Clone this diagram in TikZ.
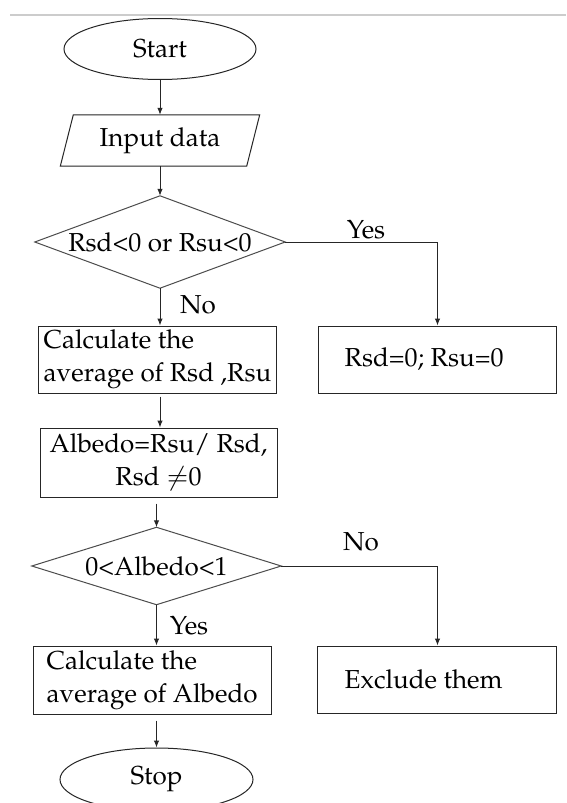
\documentclass[tikz,border=0pt]{standalone}
\usepackage[T1]{fontenc}
\usepackage{mathpazo}
\usetikzlibrary{shapes.geometric,arrows.meta}
\tikzset{
  every node/.style={font=\fontsize{26}{33}\selectfont},
  term/.style={ellipse,draw=black!85,line width=1pt,inner sep=0pt},
  procbox/.style={rectangle,draw=black!85,line width=1pt,inner sep=0pt},
  txt/.style={inner sep=0pt,align=left,anchor=west},
  decide/.style={rectangle,inner sep=0pt},
  decideline/.style={draw=black!70,line width=1pt},
  flow/.style={draw=black!85,line width=1pt,-{Latex[length=7pt,width=5.5pt]}},
  plainline/.style={draw=black!85,line width=1pt},
  lbl/.style={inner sep=0pt}
}
\begin{document}
\begin{tikzpicture}[x=1pt,y=-1pt]
\clip (0,0) rectangle (566,803);
\fill[white] (0,0) rectangle (566,803);
\draw[black!20,line width=1.2pt] (10,15) -- (566,15);

% terminals and input
\node[term,minimum width=192,minimum height=61] (start) at (160,49) {Start};
\node[inner sep=0pt,minimum width=186,minimum height=51] (inp) at (160,140.5) {Input data};
\draw[black!85,line width=1pt] ([xshift=-6.5pt]inp.south west) -- ([xshift=-6.5pt]inp.south east)
  -- ([xshift=6.5pt]inp.north east) -- ([xshift=6.5pt]inp.north west) -- cycle;

% decision 1
\node[decide,minimum width=250,minimum height=92] (d1) at (160,242) {Rsd<0 or Rsu<0};
\draw[decideline] (d1.north) -- (d1.east) -- (d1.south) -- (d1.west) -- cycle;

% process boxes
\node[procbox,minimum width=238,minimum height=67] (b1) at (157,359.5) {};
\node[txt] (b1t) at ([xshift=6pt]b1.west) {Calculate the\\average of Rsd ,Rsu};
\node[procbox,minimum width=238,minimum height=67] (r1) at (437,359.5) {};
\node[txt] (r1t) at ([xshift=27pt]r1.west) {Rsd=0; Rsu=0};
\node[procbox,align=center,minimum width=237,minimum height=69] (b2) at (158.5,462.5) {Albedo=Rsu/ Rsd,\\Rsd $\neq$0};

% decision 2
\node[decide,minimum width=249,minimum height=77] (d2) at (156.5,566) {0<Albedo<1};
\draw[decideline] (d2.north) -- (d2.east) -- (d2.south) -- (d2.west) -- cycle;

\node[procbox,minimum width=238,minimum height=68] (b3) at (152,680) {};
\node[txt] (b3t) at ([xshift=14pt]b3.west) {Calculate the\\average of Albedo};
\node[procbox,minimum width=239,minimum height=67] (r2) at (436.5,679.5) {};
\node[txt] (r2t) at ([xshift=28pt]r2.west) {Exclude them};
\node[term,minimum width=193,minimum height=63] (stop) at (156.5,779.5) {Stop};

\coordinate (y1) at (437.5,242);
\coordinate (y2) at (437.5,566);

\draw[flow] (start.south) -- (inp.north);
\draw[flow] (inp.south) -- (d1.north);
\draw[flow] (d1.south) -- (b1.north -| d1.south);
\draw[plainline] (d1.east) -- (y1);
\draw[flow] (y1) -- (y1 |- r1.north);
\draw[flow,shorten <=3pt] (b1.south -| 160,0) -- (b2.north -| 160,0);
\draw[flow,shorten <=6pt] (b2.south -| d2.north) -- (d2.north);
\draw[plainline] (d2.east) -- (y2);
\draw[flow] (y2) -- (y2 |- r2.north);
\draw[flow] (d2.south) -- (b3.north -| d2.south);
\draw[flow,shorten <=6pt] (b3.south -| stop.north) -- (stop.north);

\node[lbl] (yes1) at (366,230) {Yes};
\node[lbl] (no1) at (198,305) {No};
\node[lbl] (no2) at (361,542) {No};
\node[lbl] (yes2) at (189,626) {Yes};
\end{tikzpicture}
\end{document}
